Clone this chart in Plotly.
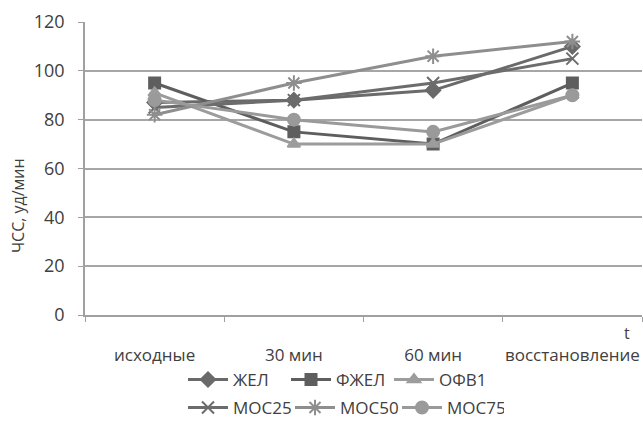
import plotly.graph_objects as go

# Heart rate (ЧСС, уд/мин) over the test stages
categories = ["исходные", "30 мин", "60 мин", "восстановление"]

zhel = [87, 88, 92, 110]
fzhel = [95, 75, 70, 95]
ofv1 = [91, 70, 70, 90]
mos25 = [85, 88, 95, 105]
mos50 = [82, 95, 106, 112]
mos75 = [88, 80, 75, 90]

series_names = ["ЖЕЛ", "ФЖЕЛ", "ОФВ1", "МОС25", "МОС50", "МОС75"]
series_values = [zhel, fzhel, ofv1, mos25, mos50, mos75]

colors = ["#6a6a6a", "#5e5e5e", "#9c9c9c", "#6c6c6c", "#8e8e8e", "#9a9a9a"]
symbols = ["diamond", "square", "triangle-up", "x-thin-open", "asterisk-open", "circle"]
sizes = [11, 11, 11, 12, 13, 12]
legends = ["legend", "legend", "legend", "legend2", "legend2", "legend2"]

FONT = "Open Sans"
TXT = "#404040"

fig = go.Figure()
for name, vals, c, s, sz, lg in zip(series_names, series_values, colors, symbols, sizes, legends):
    fig.add_trace(go.Scatter(
        x=categories, y=vals, name=name, mode="lines+markers",
        line=dict(color=c, width=3),
        marker=dict(symbol=s, size=sz, color=c, line=dict(color=c, width=2)),
        legend=lg,
    ))

fig.update_layout(
    width=643, height=428,
    margin=dict(l=85, r=1, t=22, b=113, autoexpand=False),
    paper_bgcolor="white", plot_bgcolor="white",
    font=dict(family=FONT, size=16, color=TXT),
    showlegend=True,
    legend=dict(orientation="h", x=183 / 643, xanchor="left", xref="container",
                y=1 - 380 / 428, yanchor="middle", yref="container",
                entrywidth=48, font=dict(size=17), itemwidth=40,
                bgcolor="rgba(0,0,0,0)"),
    legend2=dict(orientation="h", x=183 / 643, xanchor="left", xref="container",
                 y=1 - 408 / 428, yanchor="middle", yref="container",
                 entrywidth=52, font=dict(size=17), itemwidth=40,
                 bgcolor="rgba(0,0,0,0)"),
)

fig.update_xaxes(
    type="category", range=[-0.5, 3.5],
    showline=True, linecolor="#a0a0a0", linewidth=1.5,
    ticks="outside", tickson="boundaries", ticklen=5, tickcolor="#a0a0a0",
    showgrid=False, ticklabelstandoff=24, tickangle=0,
    tickfont=dict(family=FONT, size=17, color=TXT),
)
fig.update_yaxes(
    range=[0, 120], dtick=20,
    showline=True, linecolor="#a0a0a0", linewidth=1.5,
    ticks="outside", ticklen=5, tickcolor="#a0a0a0",
    showgrid=True, gridcolor="#a6a6a6", gridwidth=1.5,
    zeroline=False, ticklabelstandoff=10,
    tickfont=dict(family=FONT, size=18, color=TXT),
)

# vertical axis caption
fig.add_annotation(
    text="ЧСС, уд/мин", textangle=-90, x=0, xref="paper", xanchor="center", xshift=-67,
    y=(315 - 206) / 293, yref="paper", yanchor="middle", showarrow=False,
    font=dict(family=FONT, size=16, color=TXT),
)

fig.add_annotation(
    text="t", x=1, xref="paper", y=0, yref="paper",
    xanchor="right", yanchor="middle", showarrow=False, xshift=-10, yshift=-18,
    font=dict(family=FONT, size=16, color=TXT),
)

fig.write_html("out.html")
